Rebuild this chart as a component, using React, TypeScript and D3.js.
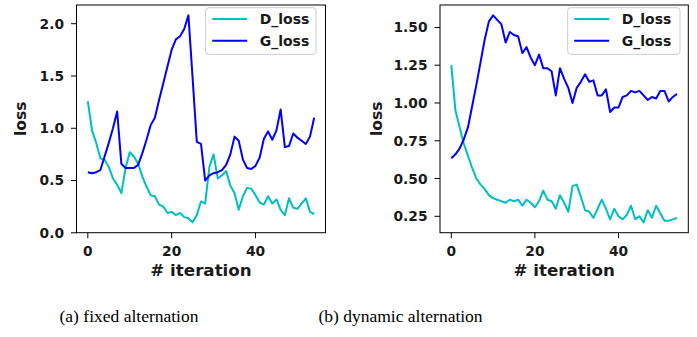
import React from "react";
import * as d3 from "d3";

const iterations = [
  0, 1, 2, 3, 4, 5, 6, 7, 8, 9, 10, 11, 12, 13, 14, 15, 16, 17, 18, 19, 20, 21, 22, 23, 24, 25, 26, 27,
  28, 29, 30, 31, 32, 33, 34, 35, 36, 37, 38, 39, 40, 41, 42, 43, 44, 45, 46, 47, 48, 49, 50, 51, 52,
  53, 54,
];

const fixedD = [
  1.26, 0.98, 0.86, 0.71, 0.7, 0.63, 0.52, 0.46, 0.38, 0.62,
  0.77, 0.73, 0.66, 0.54, 0.44, 0.36, 0.35, 0.27, 0.25, 0.19,
  0.2, 0.17, 0.19, 0.15, 0.14, 0.1, 0.17, 0.3, 0.28, 0.63,
  0.75, 0.52, 0.55, 0.59, 0.45, 0.38, 0.22, 0.35, 0.43, 0.42,
  0.36, 0.29, 0.27, 0.35, 0.28, 0.32, 0.22, 0.17, 0.33, 0.24,
  0.23, 0.28, 0.33, 0.2, 0.18,
];
const fixedG = [
  0.58, 0.57, 0.58, 0.6, 0.73, 0.86, 1.0, 1.16, 0.66, 0.62,
  0.62, 0.62, 0.65, 0.76, 0.89, 1.03, 1.1, 1.27, 1.43, 1.59,
  1.75, 1.85, 1.88, 1.95, 2.08, 1.48, 0.87, 0.85, 0.5, 0.55,
  0.57, 0.58, 0.6, 0.65, 0.75, 0.92, 0.88, 0.7, 0.62, 0.61,
  0.64, 0.72, 0.9, 0.97, 0.89, 0.98, 1.18, 0.82, 0.83, 0.95,
  0.91, 0.88, 0.85, 0.92, 1.1,
];
const dynD = [
  1.25, 0.95, 0.84, 0.73, 0.65, 0.57, 0.5, 0.46, 0.43, 0.39,
  0.37, 0.36, 0.35, 0.34, 0.36, 0.35, 0.36, 0.32, 0.36, 0.34,
  0.31, 0.35, 0.42, 0.36, 0.35, 0.3, 0.39, 0.34, 0.28, 0.45,
  0.46, 0.38, 0.29, 0.28, 0.24, 0.3, 0.36, 0.3, 0.23, 0.3,
  0.25, 0.23, 0.26, 0.32, 0.23, 0.25, 0.21, 0.29, 0.24, 0.32,
  0.27, 0.22, 0.22, 0.23, 0.24,
];
const dynG = [
  0.635, 0.66, 0.7, 0.76, 0.84, 0.98, 1.12, 1.27, 1.42, 1.54,
  1.58, 1.55, 1.52, 1.4, 1.47, 1.45, 1.44, 1.33, 1.37, 1.3,
  1.25, 1.32, 1.23, 1.23, 1.21, 1.05, 1.23, 1.16, 1.1, 1.0,
  1.1, 1.14, 1.19, 1.14, 1.15, 1.05, 1.05, 1.09, 0.94, 0.97,
  0.97, 1.04, 1.05, 1.08, 1.07, 1.08, 1.05, 1.02, 1.04, 1.03,
  1.08, 1.08, 1.01, 1.04, 1.06,
];

const fixedYTicks = [0, 0.5, 1.0, 1.5, 2.0];
const dynYTicks = [0.25, 0.5, 0.75, 1.0, 1.25, 1.5];
const xTicks = [0, 20, 40];
const seriesNames = ["D_loss", "G_loss"];
const seriesColors = ["#00BFBF", "#0000FF"];
const captions = ["(a) fixed alternation", "(b) dynamic alternation"];

const FONT = "'DejaVu Sans', sans-serif";
const TXT = "#1a1a1a";

function pad(ext: [number, number]): [number, number] {
  const r = ext[1] - ext[0];
  return [ext[0] - r * 0.05, ext[1] + r * 0.05];
}

type PanelProps = {
  left: number;
  right: number;
  top: number;
  bottom: number;
  d: number[];
  g: number[];
  yTicks: number[];
  yFmt: (v: number) => string;
  yLabelX: number;
  legendLeft: number;
  legendRight: number;
};

function Panel(p: PanelProps) {
  const x = d3.scaleLinear().domain(pad(d3.extent(iterations) as [number, number])).range([p.left, p.right]);
  const all = p.d.concat(p.g);
  const y = d3.scaleLinear().domain(pad(d3.extent(all) as [number, number])).range([p.bottom, p.top]);
  const line = d3
    .line<number>()
    .x((_, i) => x(iterations[i]))
    .y((v) => y(v));
  const series = [p.d, p.g];
  const cx = (p.left + p.right) / 2;
  const cy = (p.top + p.bottom) / 2;
  const lgTop = p.top + 7.7;
  const lgRow = 21.7;
  return (
    <g>
      {series.map((s, k) => (
        <path key={k} d={line(s) || ""} fill="none" stroke={seriesColors[k]} strokeWidth={2} strokeLinejoin="round" />
      ))}
      <rect x={p.left} y={p.top} width={p.right - p.left} height={p.bottom - p.top} fill="none" stroke="#000" strokeWidth={1} />
      {p.yTicks.map((t) => (
        <g key={"y" + t}>
          <line x1={p.left - 5.5} x2={p.left} y1={y(t)} y2={y(t)} stroke="#000" strokeWidth={1} />
          <text
            x={p.left - 12.5}
            y={y(t)}
            textAnchor="end"
            dy="0.36em"
            fontSize={13.8}
            fontWeight="bold"
            fontFamily={FONT}
            fill={TXT}
          >
            {p.yFmt(t)}
          </text>
        </g>
      ))}
      {xTicks.map((t) => (
        <g key={"x" + t}>
          <line x1={x(t)} x2={x(t)} y1={p.bottom} y2={p.bottom + 5.5} stroke="#000" strokeWidth={1} />
          <text
            x={x(t)}
            y={p.bottom + 23.5}
            textAnchor="middle"
            fontSize={13.8}
            fontWeight="bold"
            fontFamily={FONT}
            fill={TXT}
          >
            {String(t)}
          </text>
        </g>
      ))}
      <text
        x={cx}
        y={p.bottom + 43}
        textAnchor="middle"
        fontSize={16.7}
        fontWeight="bold"
        fontFamily={FONT}
        fill={TXT}
      >
        # iteration
      </text>
      <text
        transform={`translate(${p.yLabelX},${cy}) rotate(-90)`}
        textAnchor="middle"
        fontSize={15.5}
        fontWeight="bold"
        fontFamily={FONT}
        fill={TXT}
      >
        loss
      </text>
      <rect
        x={p.legendLeft}
        y={lgTop - 5}
        width={p.legendRight - p.legendLeft}
        height={46.6}
        rx={3}
        fill="#fff"
        fillOpacity={0.8}
        stroke="#cccccc"
        strokeWidth={1}
      />
      {seriesNames.map((n, k) => (
        <g key={n}>
          <line
            x1={p.legendLeft + 6.5}
            x2={p.legendLeft + 41.5}
            y1={lgTop + 6.3 + k * lgRow}
            y2={lgTop + 6.3 + k * lgRow}
            stroke={seriesColors[k]}
            strokeWidth={2}
          />
          <text
            x={p.legendLeft + 54}
            y={lgTop + 6.3 + k * lgRow}
            dy="0.36em"
            fontSize={14}
            fontWeight="bold"
            fontFamily={FONT}
            fill={TXT}
          >
            {n}
          </text>
        </g>
      ))}
    </g>
  );
}

export default function App() {
  return (
    <svg
      width={697}
      height={337}
      style={{ position: "absolute", left: 0, top: 0, background: "#fff" }}
    >
      <rect x={0} y={0} width={697} height={337} fill="#fff" />
      <Panel
        left={76.5}
        right={325.5}
        top={5}
        bottom={232.7}
        d={fixedD}
        g={fixedG}
        yTicks={fixedYTicks}
        yFmt={d3.format(".1f")}
        yLabelX={25.7}
        legendLeft={205.7}
        legendRight={316}
      />
      <Panel
        left={440}
        right={688.3}
        top={5}
        bottom={232.7}
        d={dynD}
        g={dynG}
        yTicks={dynYTicks}
        yFmt={d3.format(".2f")}
        yLabelX={381.5}
        legendLeft={567.7}
        legendRight={680}
      />
      <text x={129} y={321.5} textAnchor="middle" fontSize={17.5} fontFamily="'Liberation Serif', 'Times New Roman', serif" fill="#000">
        {captions[0]}
      </text>
      <text x={400.5} y={321.5} textAnchor="middle" fontSize={17.5} fontFamily="'Liberation Serif', 'Times New Roman', serif" fill="#000">
        {captions[1]}
      </text>
    </svg>
  );
}
